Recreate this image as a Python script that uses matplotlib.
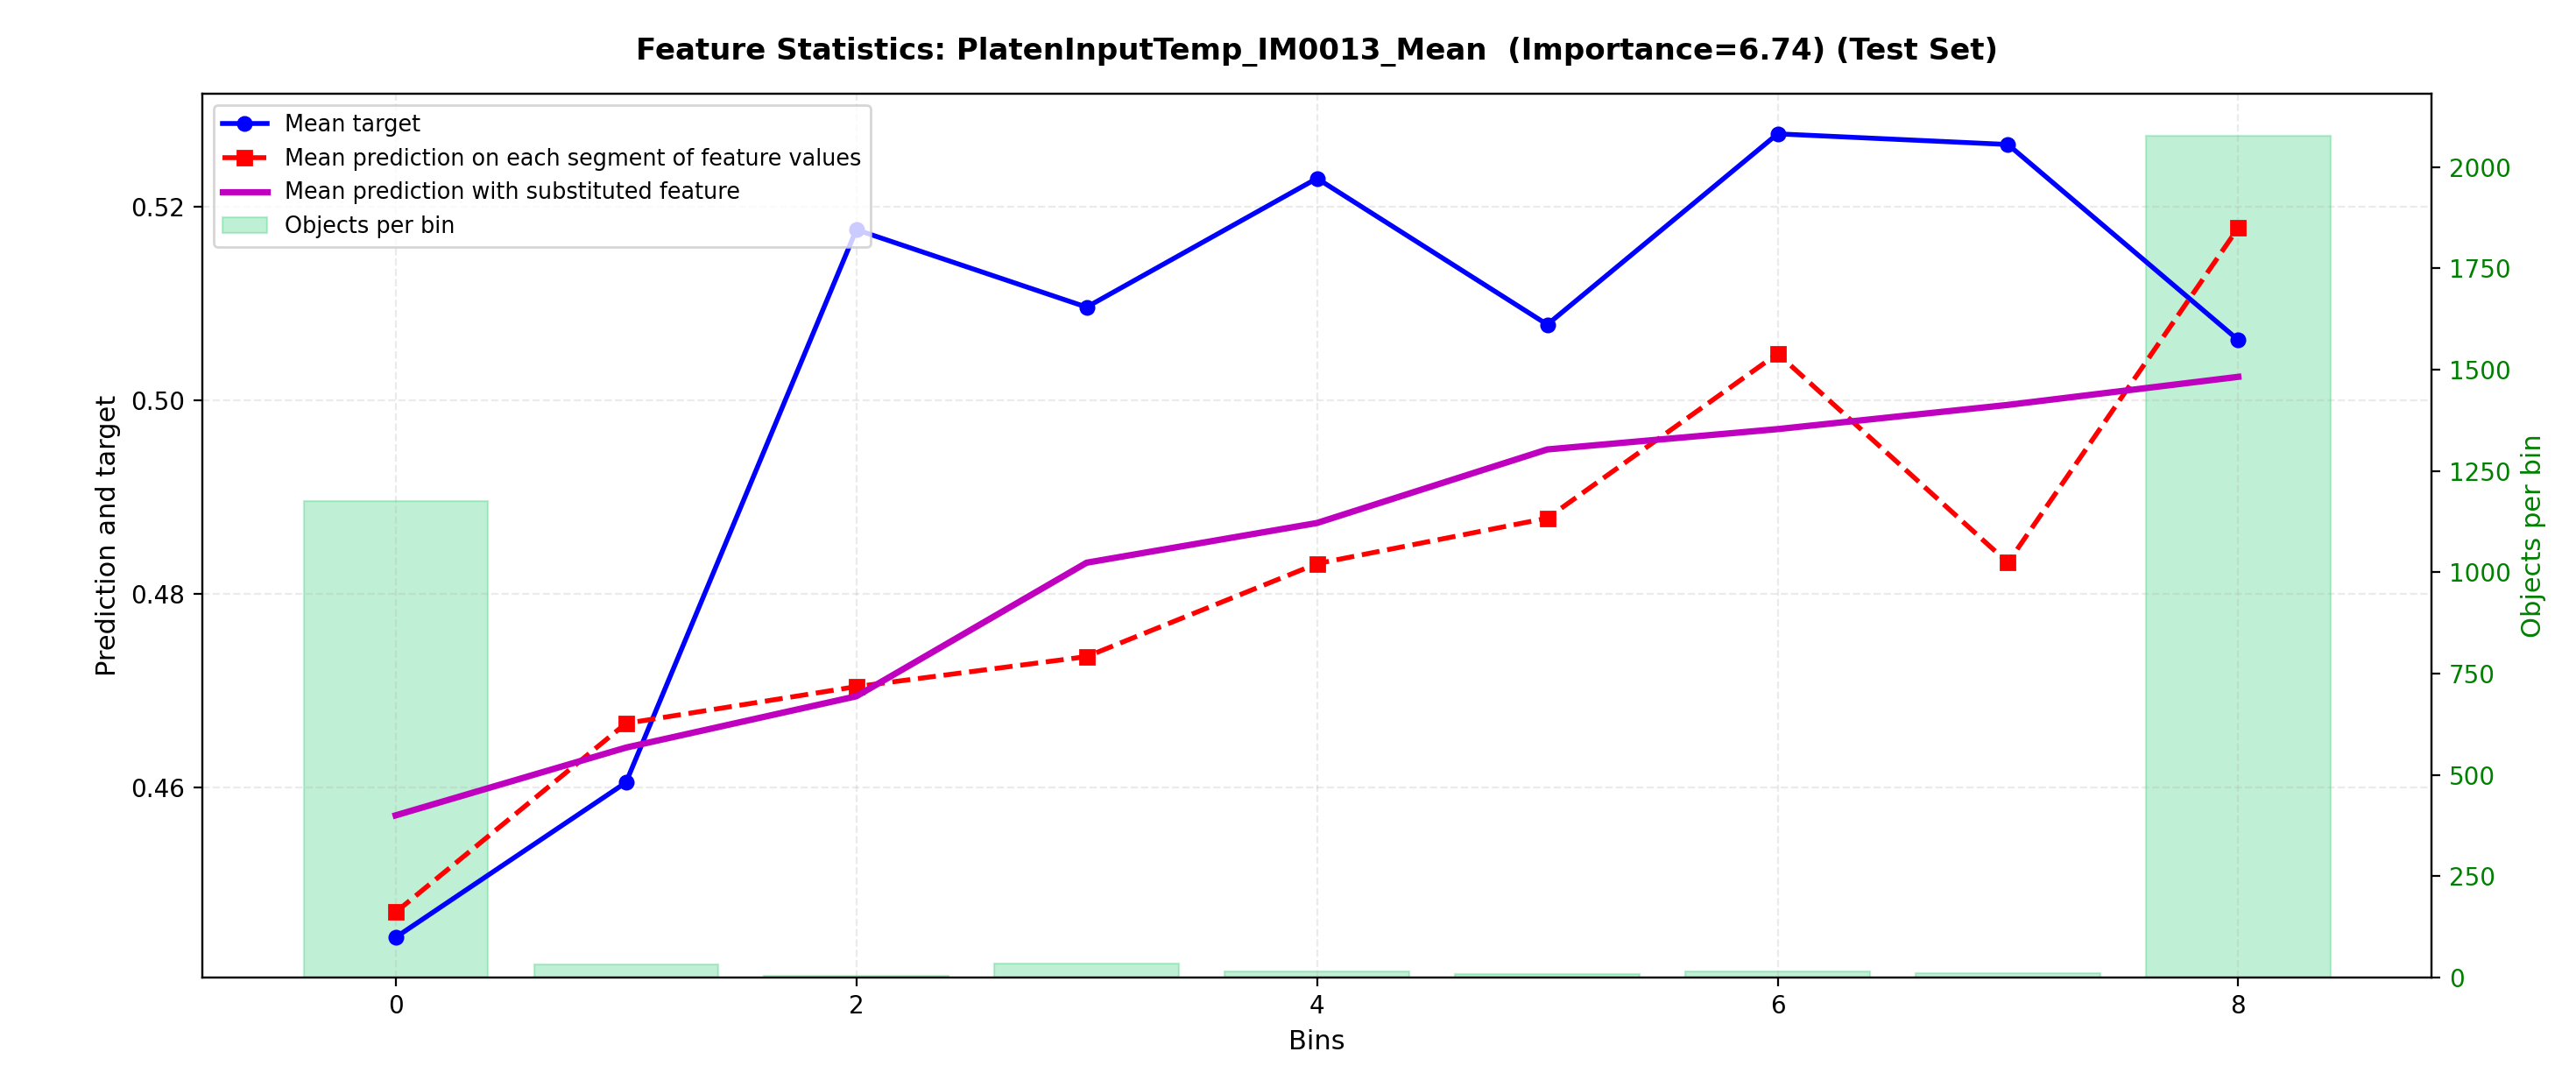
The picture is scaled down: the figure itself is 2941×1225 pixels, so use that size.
import numpy as np
import matplotlib
matplotlib.use("Agg")
import matplotlib.pyplot as plt

# Bin indices and per-bin statistics
bins = np.arange(9)
mean_target = [0.4445, 0.4605, 0.5176, 0.5096, 0.5229, 0.5078, 0.5275, 0.5264, 0.5062]
mean_pred_segment = [0.4471, 0.4666, 0.4704, 0.4735, 0.4831, 0.4878, 0.5048, 0.4832, 0.5178]
mean_pred_substituted = [0.4571, 0.4641, 0.4694, 0.4832, 0.4873, 0.4949, 0.4970, 0.4995, 0.5024]
objects_per_bin = [1175, 32, 5, 34, 16, 8, 16, 10, 2077]

title = "Feature Statistics: PlatenInputTemp_IM0013_Mean  (Importance=6.74) (Test Set)"

fig, ax1 = plt.subplots(figsize=(14.705, 6.125), dpi=200)
fig.subplots_adjust(left=0.0785, right=0.944, top=0.9127, bottom=0.089)

# Bars on the secondary axis, drawn behind the lines
ax2 = ax1.twinx()
bars = ax2.bar(bins, objects_per_bin, width=0.8, color="#2ecc71", alpha=0.3,
               edgecolor="#2ecc71", linewidth=0.8, label="Objects per bin")
ax2.set_ylabel("Objects per bin", color="green", fontsize=11)
ax2.tick_params(axis="y", labelcolor="green", labelsize=10)

ax1.set_zorder(ax2.get_zorder() + 1)
ax1.patch.set_visible(False)

l1, = ax1.plot(bins, mean_target, "o-", color="blue", linewidth=2, markersize=5.5,
               label="Mean target")
l2, = ax1.plot(bins, mean_pred_segment, "s--", color="red", linewidth=2, markersize=5.5,
               label="Mean prediction on each segment of feature values")
l3, = ax1.plot(bins, mean_pred_substituted, "-", color="m", linewidth=2.6,
               label="Mean prediction with substituted feature")

ax1.set_xlabel("Bins", fontsize=11)
ax1.set_ylabel("Prediction and target", fontsize=11)
ax1.tick_params(axis="both", labelsize=10)
ax1.set_xticks([0, 2, 4, 6, 8])
ax1.grid(True, linestyle="--", alpha=0.25)
ax1.set_title(title, fontsize=12.25, fontweight="bold", pad=14)

ax1.legend([l1, l2, l3, bars], [h.get_label() for h in (l1, l2, l3, bars)],
           loc="upper left", fontsize=9.2)

fig.savefig("out.png", dpi=200)
